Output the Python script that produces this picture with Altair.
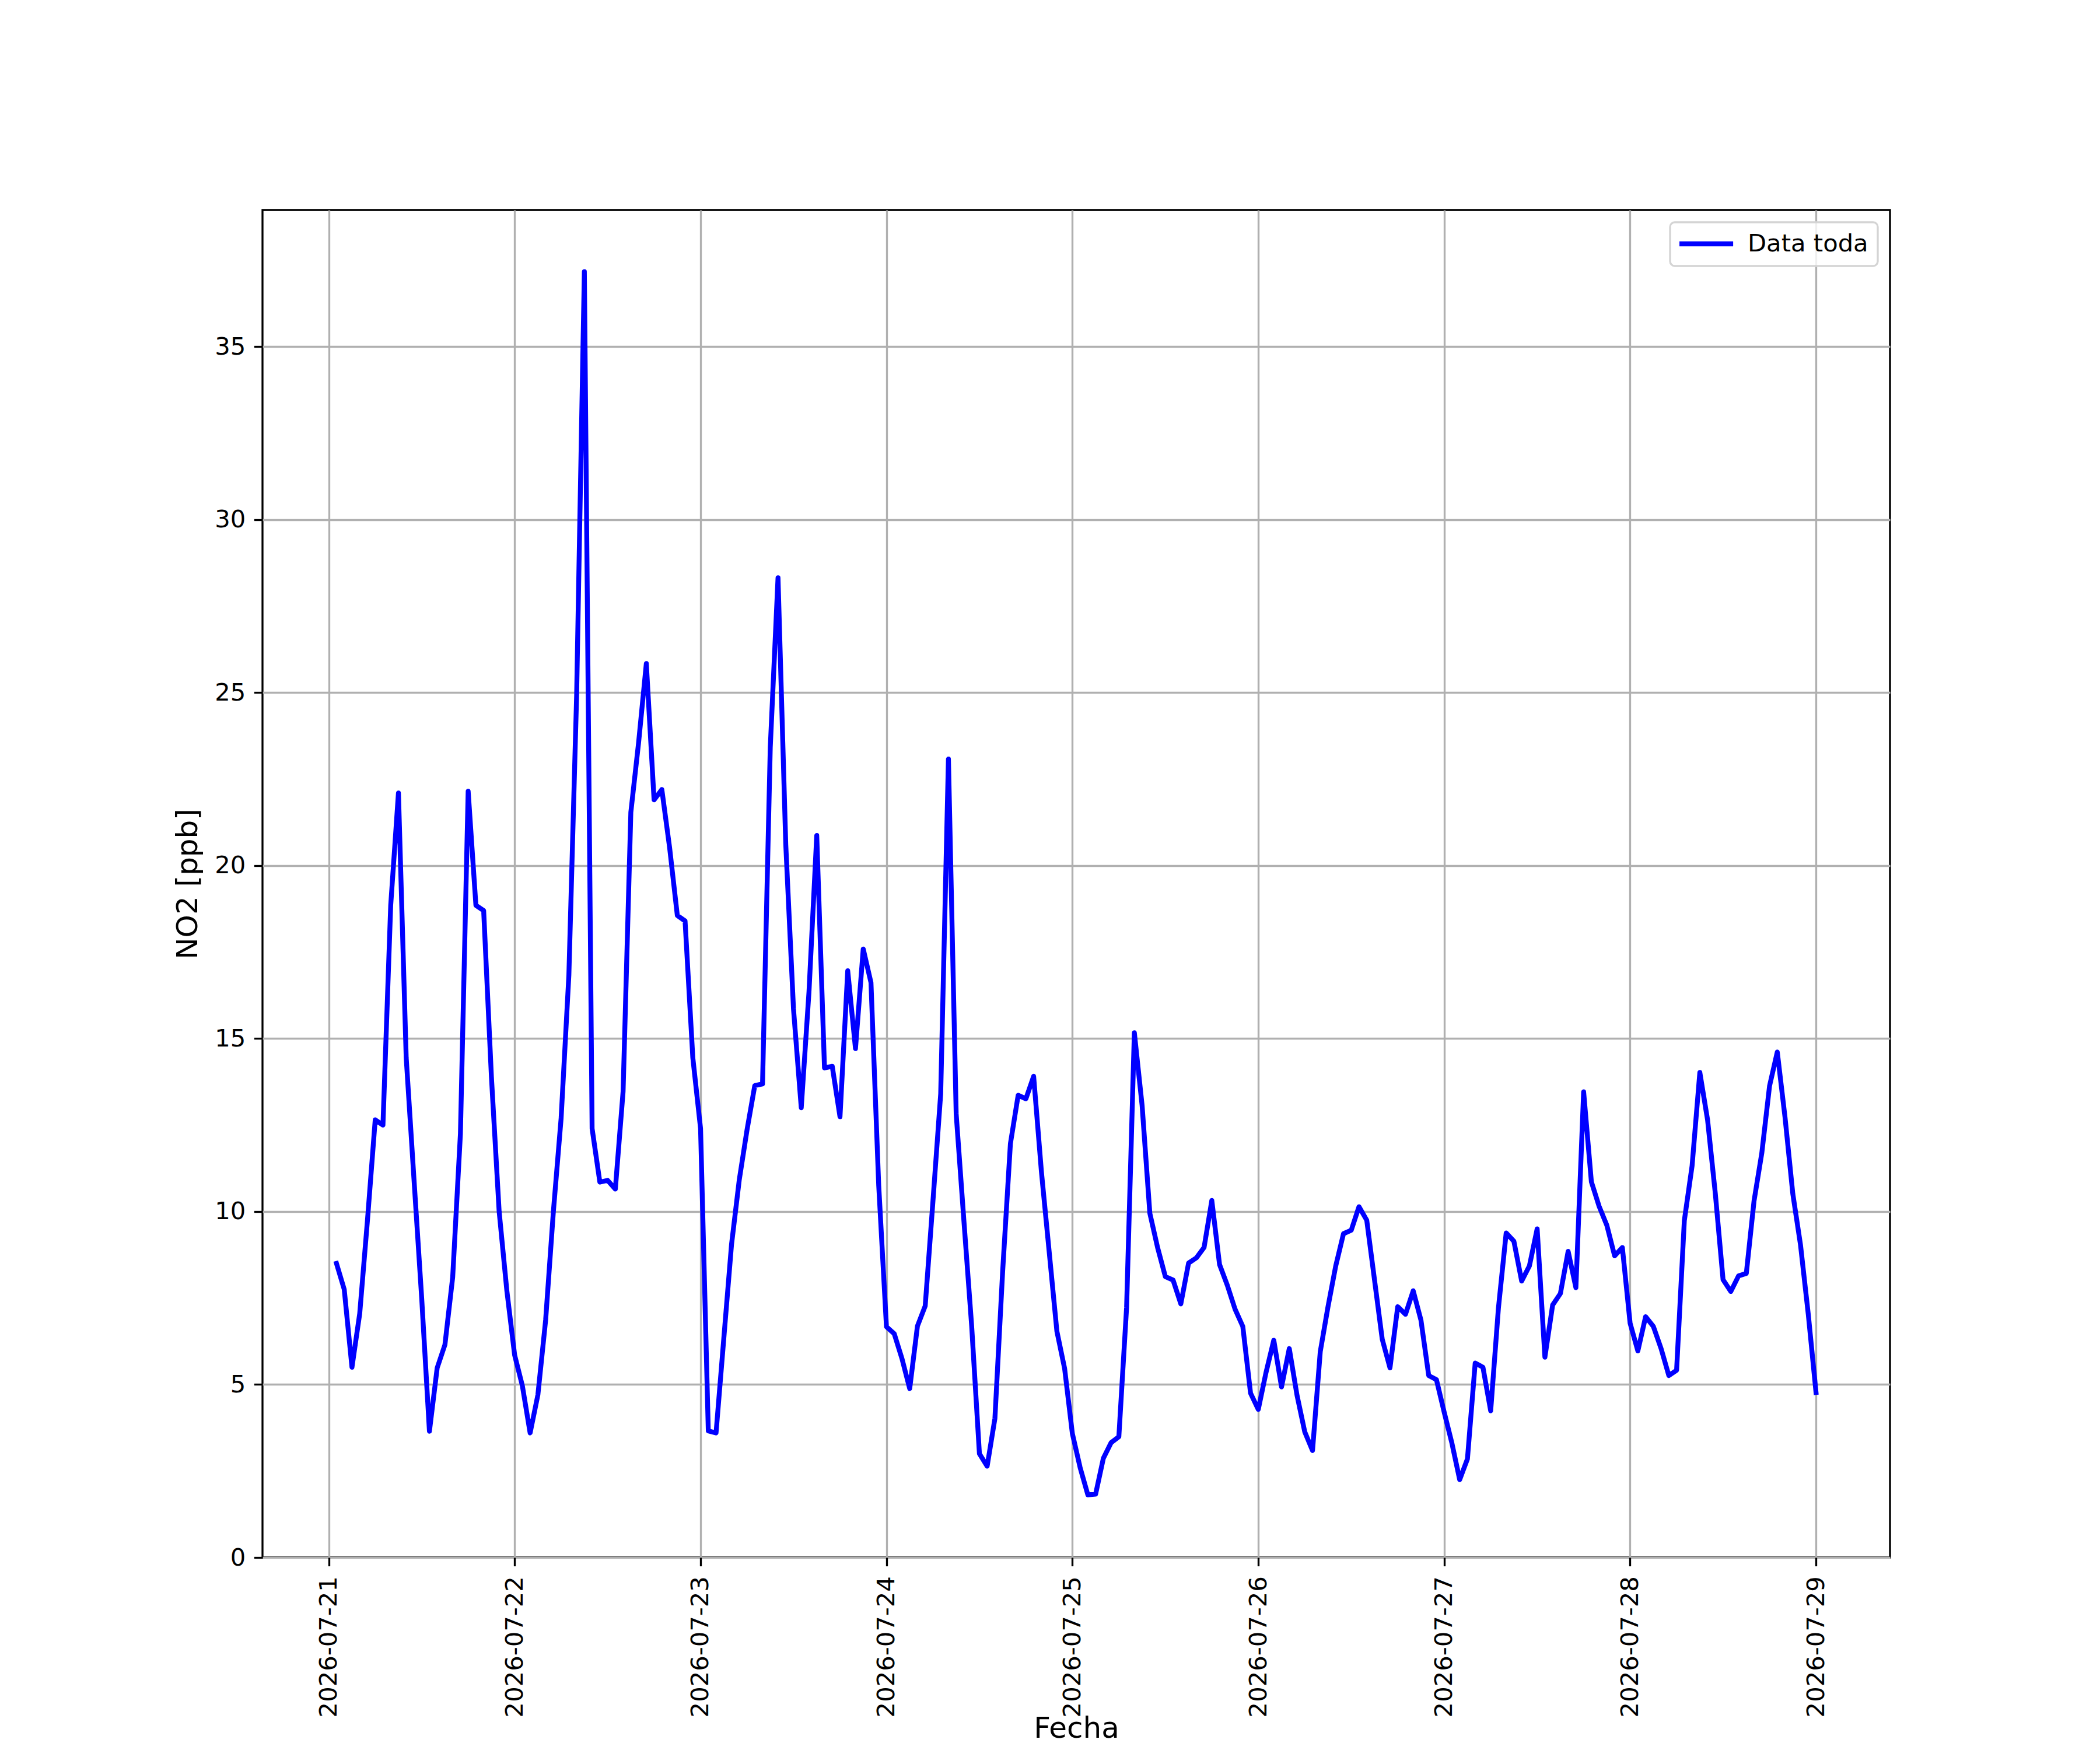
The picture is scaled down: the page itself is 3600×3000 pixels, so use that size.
import altair as alt
import pandas as pd

# NO2 hourly values [ppb], 2026-07-21 01:00 .. 2026-07-29 00:00
dia_21 = [8.5, 7.75, 5.5, 7.05, 9.75, 12.65, 12.5, 18.85, 22.1, 14.45, 10.95, 7.5,
          3.65, 5.48, 6.15, 8.1, 12.25, 22.15, 18.85, 18.7, 13.9, 10.0, 7.7, 5.85]
dia_22 = [4.96, 3.6, 4.7, 6.86, 10.0, 12.7, 16.83, 24.9, 37.17, 12.4, 10.85, 10.9,
          10.65, 13.47, 21.54, 23.55, 25.84, 21.9, 22.2, 20.53, 18.56, 18.4, 14.45, 12.4]
dia_23 = [3.66, 3.6, 6.33, 9.05, 10.92, 12.36, 13.64, 13.69, 23.42, 28.32, 20.61, 15.85,
          13.0, 16.36, 20.87, 14.15, 14.2, 12.74, 16.96, 14.71, 17.59, 16.62, 10.75, 6.67]
dia_24 = [6.47, 5.75, 4.88, 6.69, 7.27, 10.3, 13.4, 23.08, 12.82, 9.72, 6.69, 3.0,
          2.64, 4.02, 8.28, 11.96, 13.36, 13.26, 13.91, 11.16, 8.85, 6.54, 5.46, 3.58]
dia_25 = [2.6, 1.81, 1.83, 2.87, 3.32, 3.49, 7.23, 15.17, 13.07, 9.95, 8.96, 8.12,
          8.02, 7.33, 8.51, 8.66, 8.96, 10.32, 8.47, 7.87, 7.18, 6.68, 4.75, 4.28]
dia_26 = [5.35, 6.28, 4.93, 6.04, 4.69, 3.63, 3.09, 5.95, 7.25, 8.43, 9.36, 9.46,
          10.14, 9.75, 8.03, 6.31, 5.48, 7.25, 7.03, 7.71, 6.86, 5.26, 5.14, 4.2]
dia_27 = [3.3, 2.25, 2.85, 5.62, 5.5, 4.24, 7.21, 9.38, 9.14, 7.99, 8.43, 9.5,
          5.79, 7.3, 7.63, 8.85, 7.8, 13.46, 10.86, 10.15, 9.6, 8.72, 8.96, 6.77]
dia_28 = [5.97, 6.96, 6.68, 6.04, 5.26, 5.41, 9.74, 11.32, 14.02, 12.65, 10.52, 8.03,
          7.69, 8.14, 8.21, 10.31, 11.69, 13.63, 14.61, 12.72, 10.52, 9.03, 7.03, 4.77]

serie_nombre = "Data toda"
dias_ticks = [21, 22, 23, 24, 25, 26, 27, 28, 29]
y_ticks = [0, 5, 10, 15, 20, 25, 30, 35]

valores = dia_21 + dia_22 + dia_23 + dia_24 + dia_25 + dia_26 + dia_27 + dia_28
fechas = pd.date_range("2026-07-21 01:00", periods=len(valores), freq="h")
df = pd.DataFrame({
    "fecha": fechas.strftime("%Y-%m-%dT%H:%M:%SZ"),
    "no2": valores,
    "serie": serie_nombre,
})

FONT = "DejaVu Sans"
LW = 8.33      # 2pt @300dpi
THIN = 3.33    # 0.8pt @300dpi
TICK = 14.6    # 3.5pt @300dpi
FS = 41.7      # 10pt
FS_TITLE = 50  # 12pt

W, H = 2790, 2310

x_enc = alt.X(
    "fecha:T",
    scale=alt.Scale(
        type="utc",
        nice=False,
        domain=[
            alt.DateTime(year=2026, month=7, date=20, hours=15, minutes=27, utc=True),
            alt.DateTime(year=2026, month=7, date=29, hours=9, minutes=33, utc=True),
        ],
    ),
    axis=alt.Axis(
        values=[alt.DateTime(year=2026, month=7, date=d, utc=True) for d in dias_ticks],
        format="%Y-%m-%d",
        labelAngle=270,
        labelAlign="right",
        labelBaseline="middle",
        labelPadding=17,
        labelFontSize=FS,
        labelFont=FONT,
        labelColor="black",
        labelLimit=1000,
        labelFlush=False,
        labelOverlap=False,
        tickSize=TICK,
        tickWidth=THIN,
        tickColor="black",
        domain=False,
        grid=True,
        gridColor="#b0b0b0",
        gridWidth=THIN,
        title="Fecha",
        titleFont=FONT,
        titleFontSize=FS_TITLE,
        titleFontWeight="normal",
        titleColor="black",
        titleX=W / 2,
        titleY=308,
        titleAlign="center",
        titleBaseline="alphabetic",
    ),
)

y_enc = alt.Y(
    "no2:Q",
    scale=alt.Scale(domain=[0, 38.95], nice=False, zero=True),
    axis=alt.Axis(
        values=y_ticks,
        labelFontSize=FS,
        labelFont=FONT,
        labelColor="black",
        labelPadding=TICK,
        labelFlush=False,
        tickSize=TICK,
        tickWidth=THIN,
        tickColor="black",
        domain=False,
        grid=True,
        gridColor="#b0b0b0",
        gridWidth=THIN,
        title="NO2 [ppb]",
        titleFont=FONT,
        titleFontSize=FS_TITLE,
        titleFontWeight="normal",
        titleColor="black",
        titleAngle=270,
        titleX=-128,
        titleY=H / 2,
        titleAlign="center",
        titleBaseline="middle",
    ),
)

color_enc = alt.Color(
    "serie:N",
    scale=alt.Scale(domain=[serie_nombre], range=["#0000ff"]),
    legend=alt.Legend(
        title=None,
        orient="top-right",
        offset=21,
        padding=16,
        fillColor="rgba(255,255,255,0.8)",
        strokeColor="#d4d4d4",
        cornerRadius=8,
        symbolType="M-1.27,0H4.31",
        symbolSize=1089,
        symbolStrokeWidth=LW,
        labelFont=FONT,
        labelFontSize=FS,
        labelColor="black",
        labelOffset=75,
        labelLimit=1000,
    ),
)

chart = (
    alt.Chart(df)
    .mark_line(strokeWidth=LW, strokeJoin="round", strokeCap="square")
    .encode(x=x_enc, y=y_enc, color=color_enc)
    .properties(
        width=W,
        height=H,
        autosize=alt.AutoSizeParams(type="none"),
        padding={"left": 442, "top": 352, "right": 352, "bottom": 322},
        background="white",
    )
    .configure_view(stroke="black", strokeWidth=THIN, fill="white")
    .configure_legend(strokeWidth=THIN)
)

chart.save("out.html", embed_options={"renderer": "svg", "actions": False})
